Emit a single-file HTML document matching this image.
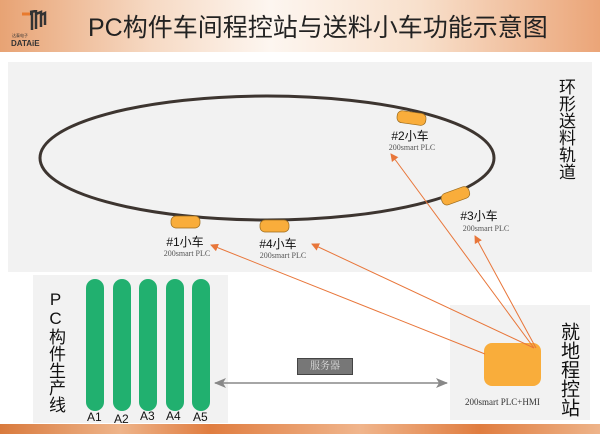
<!DOCTYPE html>
<html><head><meta charset="utf-8"><style>
body{margin:0;width:600px;height:434px;overflow:hidden;background:#fff;font-family:"Liberation Sans","Noto Sans CJK SC",sans-serif;position:relative}
.hdr{position:absolute;left:0;top:0;width:600px;height:52px;background:linear-gradient(90deg,#e8a374 0%,#f6d9c3 25%,#fdf6f0 45%,#f8e0cc 70%,#eba578 100%)}
.title{position:absolute;left:88px;top:8px;font-size:25px;color:#222;white-space:nowrap;font-family:"Liberation Sans","Noto Sans CJK SC",sans-serif}
.panel{position:absolute;background:#f2f2f2}
.vt{position:absolute;writing-mode:vertical-rl;text-orientation:upright;color:#111;font-family:"Liberation Sans","Noto Sans CJK SC",sans-serif}
.bar{position:absolute;top:279px;width:18px;height:132px;background:#21b06f;border-radius:9px}
.lab{position:absolute;font-size:12px;color:#111}
.foot{position:absolute;left:0;top:424px;width:600px;height:10px;background:linear-gradient(90deg,#d97a3d,#eeb48a 20%,#e07d40 35%,#f0b58c 60%,#e07d40 80%,#eeb48a)}
</style></head><body>
<div class="hdr"></div>
<svg style="position:absolute;left:18px;top:10px" width="30" height="22"><path d="M4 4h10v16M12 2l6 -1v18M18 4l5-2v15M23 5l4-2v12" stroke="#333" stroke-width="2.5" fill="none"/><path d="M4 4h8" stroke="#e87a2e" stroke-width="3"/></svg>
<div style="position:absolute;left:12px;top:33px;font-size:4px;color:#333">达泰电子</div>
<div style="position:absolute;left:11px;top:39px;font-size:8px;font-weight:bold;color:#333">DATAiE</div>
<div class="title">PC构件车间程控站与送料小车功能示意图</div>
<div class="panel" style="left:8px;top:62px;width:584px;height:210px"></div>
<div class="panel" style="left:33px;top:275px;width:195px;height:148px"></div>
<div class="panel" style="left:450px;top:305px;width:140px;height:115px"></div>
<div class="vt" style="left:555px;top:78px;font-size:17px;line-height:20px">环形送料轨道</div>
<div class="vt" style="left:557px;top:322px;font-size:19px;line-height:22px">就地程控站</div>
<div class="vt" style="left:45px;top:290px;font-size:17px;line-height:20px">PC构件生产线</div>
<div class="bar" style="left:86px"></div><div class="bar" style="left:113px"></div><div class="bar" style="left:139px"></div><div class="bar" style="left:166px"></div><div class="bar" style="left:192px"></div>
<div class="lab" style="left:87px;top:410px">A1</div><div class="lab" style="left:114px;top:412px">A2</div><div class="lab" style="left:140px;top:409px">A3</div><div class="lab" style="left:166px;top:409px">A4</div><div class="lab" style="left:193px;top:410px">A5</div>
<div style="position:absolute;left:484px;top:343px;width:57px;height:43px;background:#f9ad3b;border-radius:8px"></div>
<div style="position:absolute;left:465px;top:397px;font-size:9px;color:#333;font-family:'Liberation Serif',serif">200smart PLC+HMI</div>
<div style="position:absolute;left:297px;top:358px;width:54px;height:15px;background:#777;border:1px solid #444;color:#ddd;font-size:10px;text-align:center;line-height:15px;font-family:'Liberation Serif','Noto Serif CJK SC',serif">服务器</div>
<svg style="position:absolute;left:0;top:0" width="600" height="434">
<defs><marker id="o" markerWidth="8" markerHeight="8" refX="7" refY="4" orient="auto" markerUnits="userSpaceOnUse"><path d="M0 0L8 4L0 8z" fill="#e8763a"/></marker>
<marker id="g" markerWidth="12" markerHeight="10" refX="11" refY="5" orient="auto-start-reverse" markerUnits="userSpaceOnUse"><path d="M0 0L12 5L0 10L3 5z" fill="#888"/></marker></defs>
<ellipse cx="267" cy="158" rx="227" ry="62" fill="none" stroke="#3d3530" stroke-width="3"/>
<rect x="397" y="112" width="29" height="12" rx="5" fill="#f9ad3b" stroke="#9a6a1c" stroke-width="0.7" transform="rotate(8 411 118)"/>
<rect x="441" y="190" width="29" height="12" rx="5" fill="#f9ad3b" stroke="#9a6a1c" stroke-width="0.7" transform="rotate(-20 455 196)"/>
<rect x="171" y="216" width="29" height="12" rx="5" fill="#f9ad3b" stroke="#9a6a1c" stroke-width="0.7"/>
<rect x="260" y="220" width="29" height="12" rx="5" fill="#f9ad3b" stroke="#9a6a1c" stroke-width="0.7"/>
<g stroke="#e8763a" stroke-width="1" marker-end="url(#o)">
<line x1="485" y1="354" x2="211" y2="245"/>
<line x1="534" y1="348" x2="312" y2="244"/>
<line x1="534" y1="348" x2="391" y2="154"/>
<line x1="536" y1="348" x2="475" y2="236"/>
</g>
<line x1="215" y1="383" x2="447" y2="383" stroke="#888" stroke-width="1.5" marker-end="url(#g)" marker-start="url(#g)"/>
<g font-family="Liberation Sans,Noto Sans CJK SC,sans-serif" font-size="12" fill="#111" text-anchor="middle">
<text x="410" y="140">#2小车</text><text x="479" y="220">#3小车</text><text x="185" y="246">#1小车</text><text x="278" y="248">#4小车</text></g>
<g font-family="Liberation Serif,serif" font-size="8" fill="#555" text-anchor="middle">
<text x="412" y="150">200smart PLC</text><text x="486" y="231">200smart PLC</text><text x="187" y="256">200smart PLC</text><text x="283" y="258">200smart PLC</text></g>
</svg>
<div class="foot"></div>
</body></html>
